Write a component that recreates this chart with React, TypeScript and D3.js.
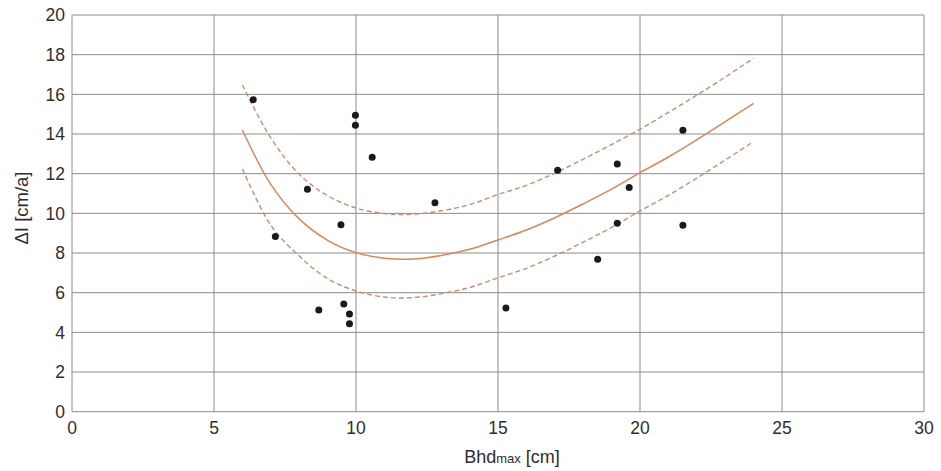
import React from "react";
import * as d3 from "d3";

const pointsX = [6.38, 8.29, 7.16, 8.69, 9.98, 9.98, 10.57, 9.47, 12.78, 17.1, 19.2, 19.62, 19.2, 9.57, 9.77, 9.77, 15.28, 18.51, 21.51, 21.51];
const pointsY = [15.73, 11.22, 8.83, 5.13, 14.95, 14.44, 12.83, 9.43, 10.54, 12.17, 12.49, 11.3, 9.5, 5.43, 4.93, 4.44, 5.23, 7.68, 14.19, 9.4];

const curveX = [6, 7, 8, 9, 10, 11, 12, 13, 14, 15, 16, 17, 18, 19, 20, 21, 22, 23, 24];
const fitY = [14.2, 11.46, 9.72, 8.64, 8.02, 7.74, 7.7, 7.88, 8.19, 8.66, 9.16, 9.78, 10.48, 11.22, 12.05, 12.84, 13.71, 14.62, 15.55];
const upperY = [16.47, 13.8, 11.97, 10.89, 10.27, 9.99, 9.95, 10.13, 10.44, 10.95, 11.41, 12.03, 12.73, 13.47, 14.24, 15.09, 15.96, 16.87, 17.82];
const lowerY = [12.24, 9.4, 7.85, 6.71, 6.09, 5.78, 5.75, 5.95, 6.26, 6.75, 7.23, 7.85, 8.55, 9.29, 10.12, 10.91, 11.78, 12.69, 13.62];

const xTicks = [0, 5, 10, 15, 20, 25, 30];
const yTicks = [0, 2, 4, 6, 8, 10, 12, 14, 16, 18, 20];

const W = 941;
const H = 471;
const left = 72;
const right = 924;
const top = 15;
const bottom = 411.7;

export default function App() {
  const x = d3.scaleLinear().domain([0, 30]).range([left, right]);
  const y = d3.scaleLinear().domain([0, 20]).range([bottom, top]);
  const line = d3
    .line<number>()
    .x((_, i) => x(curveX[i]))
    .curve(d3.curveCatmullRom.alpha(0.5));
  const fitPath = line.y((v) => y(v))(fitY) as string;
  const upPath = line.y((v) => y(v))(upperY) as string;
  const lowPath = line.y((v) => y(v))(lowerY) as string;
  const font = "'Liberation Sans Narrow', 'Liberation Sans', Arial, sans-serif";
  const grid = "#8c8c8c";

  return (
    <svg
      width={W}
      height={H}
      style={{ position: "absolute", left: 0, top: 0, background: "#fff" }}
      fontFamily={font}
    >
      <rect x={0} y={0} width={W} height={H} fill="#fff" />
      {yTicks.map((t) => (
        <line key={"h" + t} x1={left} x2={right} y1={y(t)} y2={y(t)} stroke={grid} strokeWidth={1} />
      ))}
      {xTicks.map((t) => (
        <line key={"v" + t} x1={x(t)} x2={x(t)} y1={top} y2={bottom} stroke={grid} strokeWidth={1} />
      ))}
      {yTicks.map((t) => (
        <text key={"yl" + t} x={left - 7} y={y(t)} dy="0.36em" textAnchor="end" fontSize={17.5} fill="#2e2e2e">
          {t}
        </text>
      ))}
      {xTicks.map((t) => (
        <text key={"xl" + t} x={x(t)} y={434} textAnchor="middle" fontSize={17.5} fill="#2e2e2e">
          {t}
        </text>
      ))}
      <text x={512} y={463} textAnchor="middle" fontSize={18} fill="#2e2e2e">
        Bhd<tspan fontSize={13}>max</tspan> [cm]
      </text>
      <text
        transform={`translate(28, 208) rotate(-90)`}
        textAnchor="middle"
        fontSize={18.5}
        fill="#2e2e2e"
      >
        ΔI [cm/a]
      </text>
      <path d={upPath} fill="none" stroke="#c98d72" strokeWidth={1.4} strokeDasharray="5,3" />
      <path d={lowPath} fill="none" stroke="#c98d72" strokeWidth={1.4} strokeDasharray="5,3" />
      <path d={fitPath} fill="none" stroke="#d9865a" strokeWidth={1.5} />
      {pointsX.map((px, i) => (
        <circle key={"p" + i} cx={x(px)} cy={y(pointsY[i])} r={3.5} fill="#1a1a1a" />
      ))}
    </svg>
  );
}
